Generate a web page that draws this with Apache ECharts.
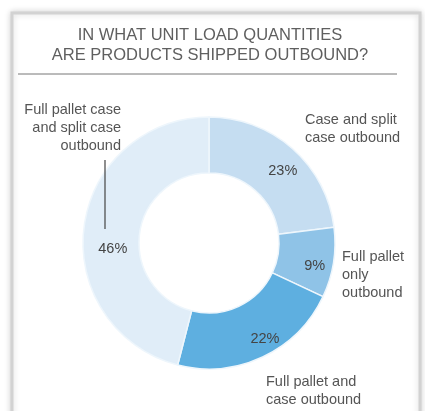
<!DOCTYPE html>
<html>
<head>
<meta charset="utf-8">
<script src="https://cdn.jsdelivr.net/npm/echarts@6/dist/echarts.min.js"></script>
<style>
html,body{margin:0;padding:0;background:#fff;}
#c{width:425px;height:411px;}
</style>
</head>
<body>
<div id="c"></div>
<script>
const titleLines = ['IN WHAT UNIT LOAD QUANTITIES', 'ARE PRODUCTS SHIPPED OUTBOUND?'];
const categories = ['Case and split case outbound', 'Full pallet only outbound', 'Full pallet and case outbound', 'Full pallet case and split case outbound'];
const values = [23, 9, 22, 46];
const colors = ['#c5ddf1', '#8fc3e7', '#5eafe0', '#e0edf8'];
const outerLabels = ['Case and split\ncase outbound', 'Full pallet\nonly\noutbound', 'Full pallet and\ncase outbound', 'Full pallet case\nand split case\noutbound'];

const chart = echarts.init(document.getElementById('c'), null, {renderer: 'canvas'});
const font = '"Liberation Sans", Arial, Helvetica, sans-serif';
const textColor = '#555';

const labelPos = [
  {x: 305, y: 111, align: 'left'},
  {x: 342, y: 248, align: 'left'},
  {x: 266, y: 373, align: 'left'},
  {x: 121, y: 101, align: 'right'}
];
const pctOffsets = [[7, 4], [6, 7], [13, 5], [4, 19]];

const graphics = [
  {type: 'rect', z: -10, shape: {x: 12, y: 13, width: 408, height: 430},
   style: {fill: '#fff', stroke: '#d2d2d2', lineWidth: 3, shadowBlur: 6, shadowColor: 'rgba(0,0,0,0.16)'}},
  {type: 'line', z: 100, shape: {x1: 18, y1: 74, x2: 397, y2: 74}, style: {stroke: '#777', lineWidth: 1}},
  {type: 'line', z: 100, shape: {x1: 105, y1: 160, x2: 105, y2: 229}, style: {stroke: '#444', lineWidth: 1.2}}
];
titleLines.forEach((t, i) => {
  graphics.push({type: 'text', z: 100, x: 210, y: 27 + i * 20,
    style: {text: t, font: '16.5px ' + font, fill: '#5f5f5f', align: 'center', verticalAlign: 'top'}});
});
outerLabels.forEach((t, i) => {
  graphics.push({type: 'text', z: 100, x: labelPos[i].x, y: labelPos[i].y,
    style: {text: t, font: '14.5px ' + font, fill: textColor, align: labelPos[i].align, verticalAlign: 'top', lineHeight: 18}});
});

chart.setOption({
  animation: false,
  backgroundColor: '#fff',
  graphic: graphics,
  series: [{
    type: 'pie',
    center: [209, 243],
    radius: [70, 126],
    startAngle: 90,
    clockwise: true,
    silent: true,
    itemStyle: {borderColor: '#eef6fc', borderWidth: 1.5},
    label: {
      show: true, position: 'inside', formatter: '{c}%',
      fontFamily: font, fontSize: 14.5, color: '#444'
    },
    labelLine: {show: false},
    data: categories.map((n, i) => ({name: n, value: values[i],
      itemStyle: {color: colors[i]}, label: {offset: pctOffsets[i]}}))
  }]
});
</script>
</body>
</html>
